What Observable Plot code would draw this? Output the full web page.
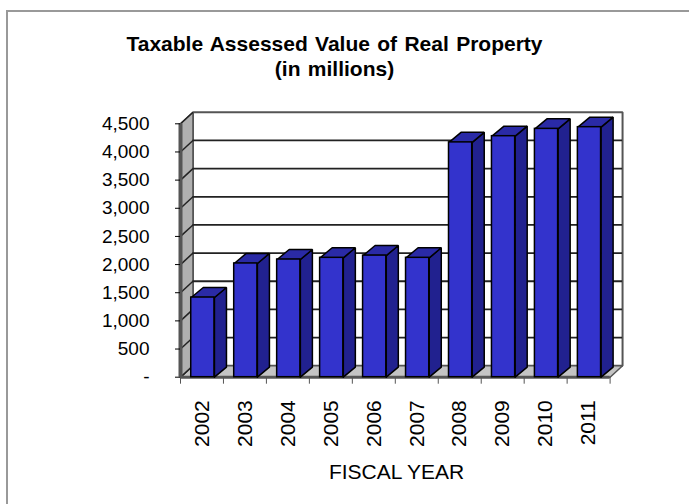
<!DOCTYPE html>
<html>
<head>
<meta charset="utf-8">
<script src="https://cdn.jsdelivr.net/npm/d3@7"></script>
<script src="https://cdn.jsdelivr.net/npm/@observablehq/plot@0.6"></script>
<style>
  html, body { margin: 0; background: #fff; }
  #chart { position: relative; width: 689px; height: 504px; overflow: hidden; font-family: "Liberation Sans", Arial, sans-serif; }
  #frame { position: absolute; left: 6px; top: 10px; width: 700px; height: 600px; border: 2px solid #999; }
  #title { position: absolute; left: 0; top: 32px; width: 669px; text-align: center; font-weight: bold; font-size: 21px; word-spacing: 1.5px; line-height: 24.5px; color: #000; }
  #plot { position: absolute; left: 0; top: 0; }
  svg { display: block; }
</style>
</head>
<body>
<div id="chart">
  <div id="frame"></div>
  <div id="title">Taxable Assessed Value of Real Property<br>(in millions)</div>
  <div id="plot"></div>
</div>
<script>
// Fiscal years and assessed values, in millions of dollars
const years = [2002, 2003, 2004, 2005, 2006, 2007, 2008, 2009, 2010, 2011];
const assessed = [1415, 2020, 2090, 2120, 2160, 2120, 4170, 4280, 4410, 4440];
const yTicks = [0, 500, 1000, 1500, 2000, 2500, 3000, 3500, 4000, 4500];

// Extents of the category axis, and the oblique offset of the 3D box in data units
const x0 = 2001.5, x1 = 2011.5;
const wallX = 0.29, wallY = 204;
const barX = 0.28, barY = 178;
const barLeft = 0.25, barRight = 0.29;

const quad = (id, pts) => pts.map(([x, y]) => ({id, x, y}));

const floor = quad("floor", [[x0, 0], [x1, 0], [x1 + wallX, wallY], [x0 + wallX, wallY], [x0, 0]]);
const wall = quad("wall", [[x0, 0], [x0 + wallX, wallY], [x0 + wallX, 4500 + wallY], [x0, 4500], [x0, 0]]);
const back = quad("back", [[x0 + wallX, wallY], [x1 + wallX, wallY], [x1 + wallX, 4500 + wallY], [x0 + wallX, 4500 + wallY], [x0 + wallX, wallY]]);

const bars = years.map((year, i) => ({year, value: assessed[i]}));
const sides = bars.flatMap(d => quad(d.year, [
  [d.year + barRight, 0], [d.year + barRight + barX, barY],
  [d.year + barRight + barX, d.value + barY], [d.year + barRight, d.value], [d.year + barRight, 0]
]));
const tops = bars.flatMap(d => quad(d.year, [
  [d.year - barLeft, d.value], [d.year + barRight, d.value],
  [d.year + barRight + barX, d.value + barY], [d.year - barLeft + barX, d.value + barY], [d.year - barLeft, d.value]
]));
const boundaries = d3.range(x0, x1 + 1);

const face = (data, fill, stroke = "#000", strokeWidth = 1.5) =>
  Plot.line(data, {x: "x", y: "y", z: "id", fill, stroke, strokeWidth, curve: "linear", strokeLinejoin: "miter"});

const chart = Plot.plot({
  width: 689,
  height: 504,
  marginLeft: 180,
  marginRight: 79.4,
  marginTop: 123.3,
  marginBottom: 127.3,
  style: {background: "transparent", fontFamily: '"Liberation Sans", Arial, sans-serif', color: "#000"},
  x: {domain: [x0, x1], label: null},
  y: {domain: [0, 4500], label: null},
  marks: [
    face(back, "#fff", "#555", 2),
    face(floor, "#c4c4c4", "#555", 1.5),
    face(wall, "#b0b0b0", "#555", 1.5),
    // Gridlines run across the back wall and turn down the side wall
    Plot.ruleY(yTicks.slice(1, -1), {x1: x0 + wallX, x2: x1 + wallX, y: d => d + wallY, stroke: "#222", strokeWidth: 1.8}),
    Plot.link(yTicks, {x1: x0, y1: d => d, x2: x0 + wallX, y2: d => d + wallY, stroke: "#222", strokeWidth: 1.5}),
    Plot.ruleX([x0], {y1: 0, y2: 4500, stroke: "#555", strokeWidth: 4}),
    Plot.ruleY([0], {x1: x0, x2: x1, stroke: "#555", strokeWidth: 3}),
    // Bars: side and top faces behind the front face
    face(sides, "#21218f"),
    face(tops, "#2a2aa6"),
    Plot.rectY(bars, {x1: d => d.year - barLeft, x2: d => d.year + barRight, y1: 0, y2: "value", fill: "#3333cc", stroke: "#000", strokeWidth: 1.5}),
    // Axis ticks sit on the category boundaries, year labels between them
    Plot.axisX({ticks: boundaries, tickSize: 7, tickFormat: () => "", stroke: "#555", label: null}),
    Plot.axisX({ticks: years, tickSize: 0, tickRotate: -90, tickFormat: d => String(d), fontSize: 21, tickPadding: 23, label: null}),
    Plot.axisY({ticks: yTicks, tickSize: 5, tickPadding: 26, tickFormat: d => d === 0 ? "-" : d3.format(",")(d), fontSize: 19, label: null}),
    Plot.text(["FISCAL YEAR"], {x: 2006.53, y: 0, text: d => d, fontSize: 21, dy: 95, textAnchor: "middle"})
  ]
});
document.getElementById("plot").appendChild(chart);
</script>
</body>
</html>
